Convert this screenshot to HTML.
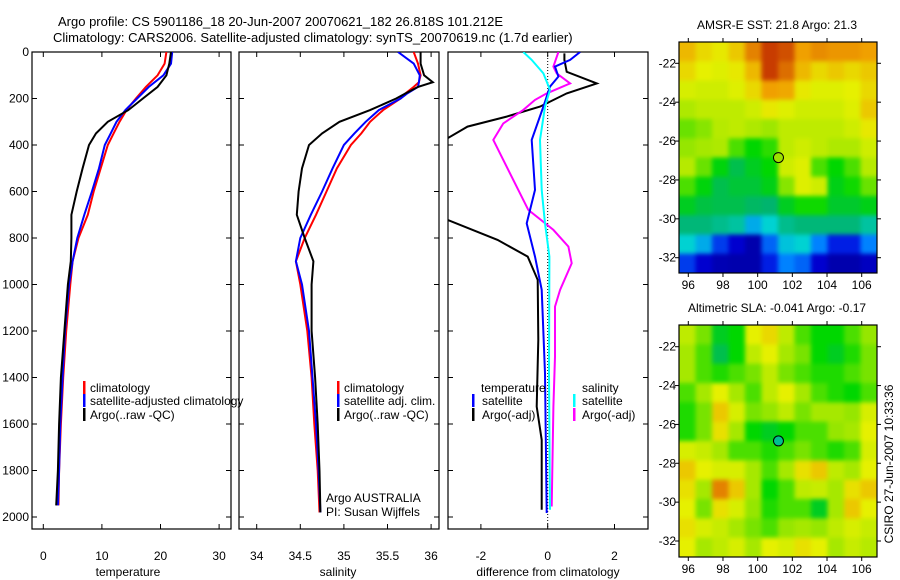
<!DOCTYPE html>
<html><head><meta charset="utf-8"><style>
html,body{margin:0;padding:0;background:#fff}
svg{display:block;font-family:"Liberation Sans",sans-serif;font-size:12px}
</style></head><body>
<svg id="fig" width="900" height="580" viewBox="0 0 900 580" xmlns="http://www.w3.org/2000/svg">
<text x="58" y="26" font-size="13">Argo profile: CS 5901186_18 20-Jun-2007 20070621_182 26.818S 101.212E</text>
<text x="53" y="42" font-size="13">Climatology: CARS2006. Satellite-adjusted climatology: synTS_20070619.nc (1.7d earlier)</text>
<defs>
<clipPath id="c1"><rect x="32" y="52" width="199" height="477"/></clipPath>
<clipPath id="c2"><rect x="239" y="52" width="200" height="477"/></clipPath>
<clipPath id="c3"><rect x="448" y="52" width="200" height="477"/></clipPath>
</defs>
<g id="g"></g>
</svg>
<script>
// ---- data ----
const tDepth=[0,50,100,150,200,250,300,350,400,500,600,700,800,900,1000,1200,1400,1600,1800,1950];
const tClim=[21,20.7,19.5,17.5,15.8,14.2,13,12,11,9.8,8.6,7.6,6,5,4.6,3.9,3.4,3.0,2.7,2.6];
const tSat=[22,21.8,20.5,18,16,14,12.5,11.5,10.5,9.5,8.3,7,5.8,5,4.4,3.7,3.3,2.9,2.7,2.5];
const tArgo=[21.8,21.5,21,19.5,17,14.5,11,9,7.8,6.7,5.7,4.8,4.8,4.7,4.2,3.6,3,2.7,2.5,2.2];
const sDepth=[0,50,100,130,150,180,200,250,300,350,400,500,600,700,800,900,1000,1200,1400,1600,1800,1980];
const sClim=[35.8,35.85,35.88,35.86,35.8,35.7,35.65,35.45,35.3,35.2,35.08,34.92,34.8,34.68,34.55,34.45,34.5,34.58,34.63,34.66,34.7,34.72];
const sSat=[35.62,35.8,35.87,35.86,35.85,35.72,35.65,35.4,35.25,35.12,35.0,34.87,34.75,34.62,34.5,34.45,34.52,34.6,34.64,34.68,34.71,34.73];
const sArgo=[35.88,35.88,35.92,36.02,35.85,35.7,35.6,35.3,34.95,34.75,34.6,34.52,34.48,34.46,34.55,34.65,34.63,34.63,34.67,34.7,34.72,34.73];
const dTAdjDepth=[6,34,85,135,178,235,278,321,371,500,650,722,808,880,980,1238,1525,1668,1969];
const dTAdj=[0.5,0.5,0.57,1.47,0.57,-0.23,-1.23,-2.4,-3,-4,-3.6,-3,-1.5,-0.6,-0.3,-0.28,-0.33,-0.18,-0.18];
const dTSatDepth=[0,34,63,106,149,235,378,593,737,880,1023,1382,1983];
const dTSat=[0.97,0.67,0.22,0.32,0.07,-0.13,-0.48,-0.38,-0.63,-0.38,-0.18,-0.08,-0.03];
const dSSatDepth=[0,34,92,163,235,378,593,737,880,1382,1969];
const dSSat=[-0.73,-0.48,-0.13,0.07,-0.08,-0.23,-0.18,-0.08,0.05,0.04,0.07];
const dSAdjDepth=[0,63,92,135,178,206,249,307,378,450,593,679,765,837,909,1023,1095,1310,1525,1955];
const dSAdj=[0.32,0.17,0.27,0.67,-0.03,-0.38,-0.73,-1.33,-1.63,-1.38,-0.88,-0.58,0.17,0.62,0.72,0.37,0.22,0.22,0.17,0.12];
const depthTicks=[0,200,400,600,800,1000,1200,1400,1600,1800,2000];
const tTicks=[0,10,20,30];
const sTicks=[34,34.5,35,35.5,36];
const dTicks=[-2,0,2];
const lonTicks=[96,98,100,102,104,106];
const latTicks=[-22,-24,-26,-28,-30,-32];
const sst=[
[0.82,0.78,0.76,0.80,0.88,0.95,0.93,0.85,0.87,0.86,0.86,0.85],
[0.78,0.75,0.74,0.76,0.82,0.95,0.90,0.82,0.78,0.80,0.78,0.80],
[0.73,0.72,0.72,0.74,0.78,0.85,0.84,0.76,0.74,0.74,0.75,0.78],
[0.68,0.70,0.70,0.70,0.72,0.76,0.74,0.72,0.72,0.72,0.74,0.80],
[0.62,0.64,0.69,0.70,0.68,0.66,0.70,0.70,0.70,0.70,0.72,0.76],
[0.65,0.67,0.68,0.60,0.55,0.58,0.70,0.72,0.70,0.68,0.68,0.72],
[0.69,0.62,0.54,0.48,0.52,0.55,0.72,0.74,0.60,0.55,0.60,0.69],
[0.60,0.54,0.48,0.50,0.50,0.53,0.64,0.74,0.72,0.53,0.56,0.62],
[0.52,0.49,0.48,0.48,0.46,0.45,0.52,0.56,0.56,0.51,0.51,0.53],
[0.44,0.44,0.42,0.40,0.30,0.35,0.42,0.44,0.44,0.44,0.44,0.40],
[0.35,0.30,0.18,0.10,0.05,0.22,0.33,0.35,0.25,0.15,0.15,0.25],
[0.18,0.10,0.06,0.05,0.05,0.15,0.25,0.22,0.10,0.05,0.05,0.08]];
const sla=[
[0.70,0.63,0.52,0.55,0.75,0.78,0.70,0.60,0.55,0.55,0.60,0.65],
[0.67,0.60,0.48,0.55,0.70,0.75,0.67,0.63,0.55,0.52,0.57,0.63],
[0.67,0.60,0.57,0.60,0.63,0.70,0.63,0.60,0.57,0.57,0.60,0.63],
[0.60,0.67,0.75,0.67,0.60,0.70,0.75,0.67,0.60,0.57,0.55,0.60],
[0.57,0.63,0.80,0.73,0.63,0.65,0.70,0.63,0.67,0.67,0.65,0.73],
[0.57,0.63,0.77,0.67,0.55,0.52,0.55,0.60,0.60,0.65,0.67,0.75],
[0.73,0.71,0.67,0.60,0.60,0.57,0.60,0.63,0.60,0.57,0.60,0.73],
[0.80,0.75,0.73,0.73,0.67,0.60,0.67,0.77,0.80,0.70,0.67,0.75],
[0.77,0.67,0.88,0.80,0.67,0.55,0.60,0.70,0.71,0.67,0.77,0.80],
[0.75,0.63,0.77,0.73,0.65,0.57,0.60,0.60,0.52,0.67,0.80,0.75],
[0.77,0.73,0.71,0.67,0.63,0.60,0.65,0.67,0.65,0.70,0.73,0.71],
[0.75,0.67,0.70,0.73,0.67,0.75,0.73,0.77,0.75,0.67,0.71,0.69]];
const floatPos=[101.2,-26.85];

// ---- helpers ----
const NS="http://www.w3.org/2000/svg";
const G=document.getElementById('g');
function el(tag,attrs,parent,txt){const e=document.createElementNS(NS,tag);for(const k in attrs)e.setAttribute(k,attrs[k]);if(txt!==undefined)e.textContent=txt;(parent||G).appendChild(e);return e;}
const yD=d=>52+d*0.2325;
const xT=t=>43.3+t*5.86;
const xS=s=>256.7+(s-34)*87.2;
const xDf=v=>547.7+v*33.4;
const lonX=l=>688.3+(l-96)*17.34;
const latY1=l=>63.3+(-22-l)*19.44;
const latY2=l=>346.7+(-22-l)*19.43;

function axesBox(x,y,w,h,name){
  const r=el('rect',{x:x,y:y,width:w,height:h,fill:'none',stroke:'#000','stroke-width':1.2});
  
  
}
function line(xs,ds,xf,color,clip,name){
  const p=el('polyline',{points:xs.map((v,i)=>xf(v).toFixed(1)+','+yD(ds[i]).toFixed(1)).join(' '),fill:'none',stroke:color,'stroke-width':2,'clip-path':'url(#'+clip+')'});
  
  
}
function depthTickMarks(x0,x1,labels){
  depthTicks.forEach(d=>{
    const y=yD(d);
    el('line',{x1:x0,y1:y,x2:x0+5,y2:y,stroke:'#000'});
    el('line',{x1:x1,y1:y,x2:x1-5,y2:y,stroke:'#000'});
    if(labels){const t=el('text',{x:x0-3,y:y+4,'text-anchor':'end'},G,String(d));
      
      }
  });
}
function xTicks(ticks,xf,x0,x1,name){
  ticks.forEach(v=>{
    const x=xf(v);
    el('line',{x1:x,y1:529,x2:x,y2:524,stroke:'#000'});
    el('line',{x1:x,y1:52,x2:x,y2:57,stroke:'#000'});
    const t=el('text',{x:x,y:560,'text-anchor':'middle'},G,String(v));
    
    
  });
}
function label(x,y,txt,name,anchor,size){
  const t=el('text',{x:x,y:y,'text-anchor':anchor||'start','font-size':size||12},G,txt);
  
  
  return t;
}
function legendBar(x,y,color){
  const r=el('rect',{x:x,y:y-6,width:2.5,height:13,fill:color});
  
  
}

// ---- panel 1 temperature ----
axesBox(32,52,199,477,'temperature-axes');
depthTickMarks(32,231,true);
xTicks(tTicks,xT,32,231,'temperature-tick-label');
line(tClim,tDepth,xT,'#f00','c1','temperature-climatology-line');
line(tSat,tDepth,xT,'#00f','c1','temperature-satellite-line');
line(tArgo,tDepth,xT,'#000','c1','temperature-argo-line');
label(128,576,'temperature','temperature-axis-title','middle');
legendBar(83,387,'#f00');legendBar(83,400,'#00f');legendBar(83,414,'#000');
label(90,392,'climatology','legend-entry-climatology');
label(90,405,'satellite-adjusted climatology','legend-entry-satellite');
label(90,419,'Argo(..raw -QC)','legend-entry-argo');

// ---- panel 2 salinity ----
axesBox(239,52,200,477,'salinity-axes');
depthTickMarks(239,439,false);
xTicks(sTicks,xS,239,439,'salinity-tick-label');
line(sClim,sDepth,xS,'#f00','c2','salinity-climatology-line');
line(sSat,sDepth,xS,'#00f','c2','salinity-satellite-line');
line(sArgo,sDepth,xS,'#000','c2','salinity-argo-line');
label(338,576,'salinity','salinity-axis-title','middle');
legendBar(337,387,'#f00');legendBar(337,400,'#00f');legendBar(337,414,'#000');
label(344,392,'climatology','legend-entry-climatology');
label(344,405,'satellite adj. clim.','legend-entry-satellite');
label(344,419,'Argo(..raw -QC)','legend-entry-argo');
label(326,502,'Argo AUSTRALIA','argo-program-label');
label(326,516,'PI: Susan Wijffels','pi-label');

// ---- panel 3 difference ----
axesBox(448,52,200,477,'difference-axes');
depthTickMarks(448,648,false);
xTicks(dTicks,xDf,448,648,'difference-tick-label');
const z=el('line',{x1:xDf(0),y1:52,x2:xDf(0),y2:529,stroke:'#000','stroke-dasharray':'1,2'});


line(dTAdj,dTAdjDepth,xDf,'#000','c3','temperature-argo-diff-line');
line(dSAdj,dSAdjDepth,xDf,'#f0f','c3','salinity-argo-diff-line');
line(dTSat,dTSatDepth,xDf,'#00f','c3','temperature-satellite-diff-line');
line(dSSat,dSSatDepth,xDf,'#0ff','c3','salinity-satellite-diff-line');
label(548,576,'difference from climatology','difference-axis-title','middle');
label(481,392,'temperature','legend-header-temperature');
legendBar(472,400,'#00f');legendBar(472,414,'#000');
label(482,405,'satellite','legend-entry-temp-satellite');
label(482,419,'Argo(-adj)','legend-entry-temp-argo');
label(582,392,'salinity','legend-header-salinity');
legendBar(573,400,'#0ff');legendBar(573,414,'#f0f');
label(582,405,'satellite','legend-entry-sal-satellite');
label(582,419,'Argo(-adj)','legend-entry-sal-argo');

// ---- maps ----
const stops=[[0,[0,0,140]],[0.12,[0,0,220]],[0.25,[0,130,255]],[0.35,[0,210,210]],[0.45,[0,180,110]],[0.55,[0,215,0]],[0.65,[150,230,0]],[0.75,[230,240,0]],[0.85,[240,160,0]],[0.95,[200,60,0]],[1,[170,20,0]]];
function cmap(v){for(let i=1;i<stops.length;i++){if(v<=stops[i][0]){const a=stops[i-1],b=stops[i],f=(v-a[0])/(b[0]-a[0]);return 'rgb('+a[1].map((c,k)=>Math.round(c+(b[1][k]-c)*f)).join(',')+')';}}return 'rgb(170,20,0)';}
function drawMap(grid,top,bot,latY,name,title,dotColor){
  const L=679,R=877,cols=grid[0].length,rows=grid.length,cw=(R-L)/cols,ch=(bot-top)/rows;
  const g=el('g',{style:'filter:blur(2px)'});
  const cg=el('clipPath',{id:name+'-clip'});el('rect',{x:L,y:top,width:R-L,height:bot-top},cg);
  const outer=el('g',{'clip-path':'url(#'+name+'-clip)'});outer.appendChild(g);
  grid.forEach((row,i)=>row.forEach((v,j)=>{
    const r=el('rect',{x:(L+j*cw-(j==0?6:0)).toFixed(2),y:(top+i*ch-(i==0?6:0)).toFixed(2),width:(cw+0.6+(j==0||j==cols-1?6:0)).toFixed(2),height:(ch+0.6+(i==0||i==rows-1?6:0)).toFixed(2),fill:cmap(v)},g);
    
    
  }));
  axesBox(L,top,R-L,bot-top,name+'-axes');
  lonTicks.forEach(l=>{const x=lonX(l);el('line',{x1:x,y1:top,x2:x,y2:top-4,stroke:'#000'});el('line',{x1:x,y1:bot,x2:x,y2:bot+4,stroke:'#000'});
    label(x,bot+16,String(l),name+'-lon-tick-label','middle');});
  latTicks.forEach(l=>{const y=latY(l);el('line',{x1:L,y1:y,x2:L-4,y2:y,stroke:'#000'});el('line',{x1:R,y1:y,x2:R+4,y2:y,stroke:'#000'});
    label(L-3,y+4,String(l),name+'-lat-tick-label','end');});
  const c=el('circle',{cx:lonX(floatPos[0]),cy:latY(floatPos[1]),r:5,fill:dotColor,stroke:'#000','stroke-width':1});
  
  
  label(777,top-13,title,name+'-title','middle');
}
drawMap(sst,42,273,latY1,'sst-map','AMSR-E SST: 21.8 Argo: 21.3','#9be000');
drawMap(sla,325,557,latY2,'sla-map','Altimetric SLA: -0.041  Argo: -0.17','#00c090');
const ts=label(0,0,'CSIRO 27-Jun-2007 10:33:36','timestamp-label','middle');
ts.setAttribute('transform','translate(893,464) rotate(-90)');
</script>
</body></html>
